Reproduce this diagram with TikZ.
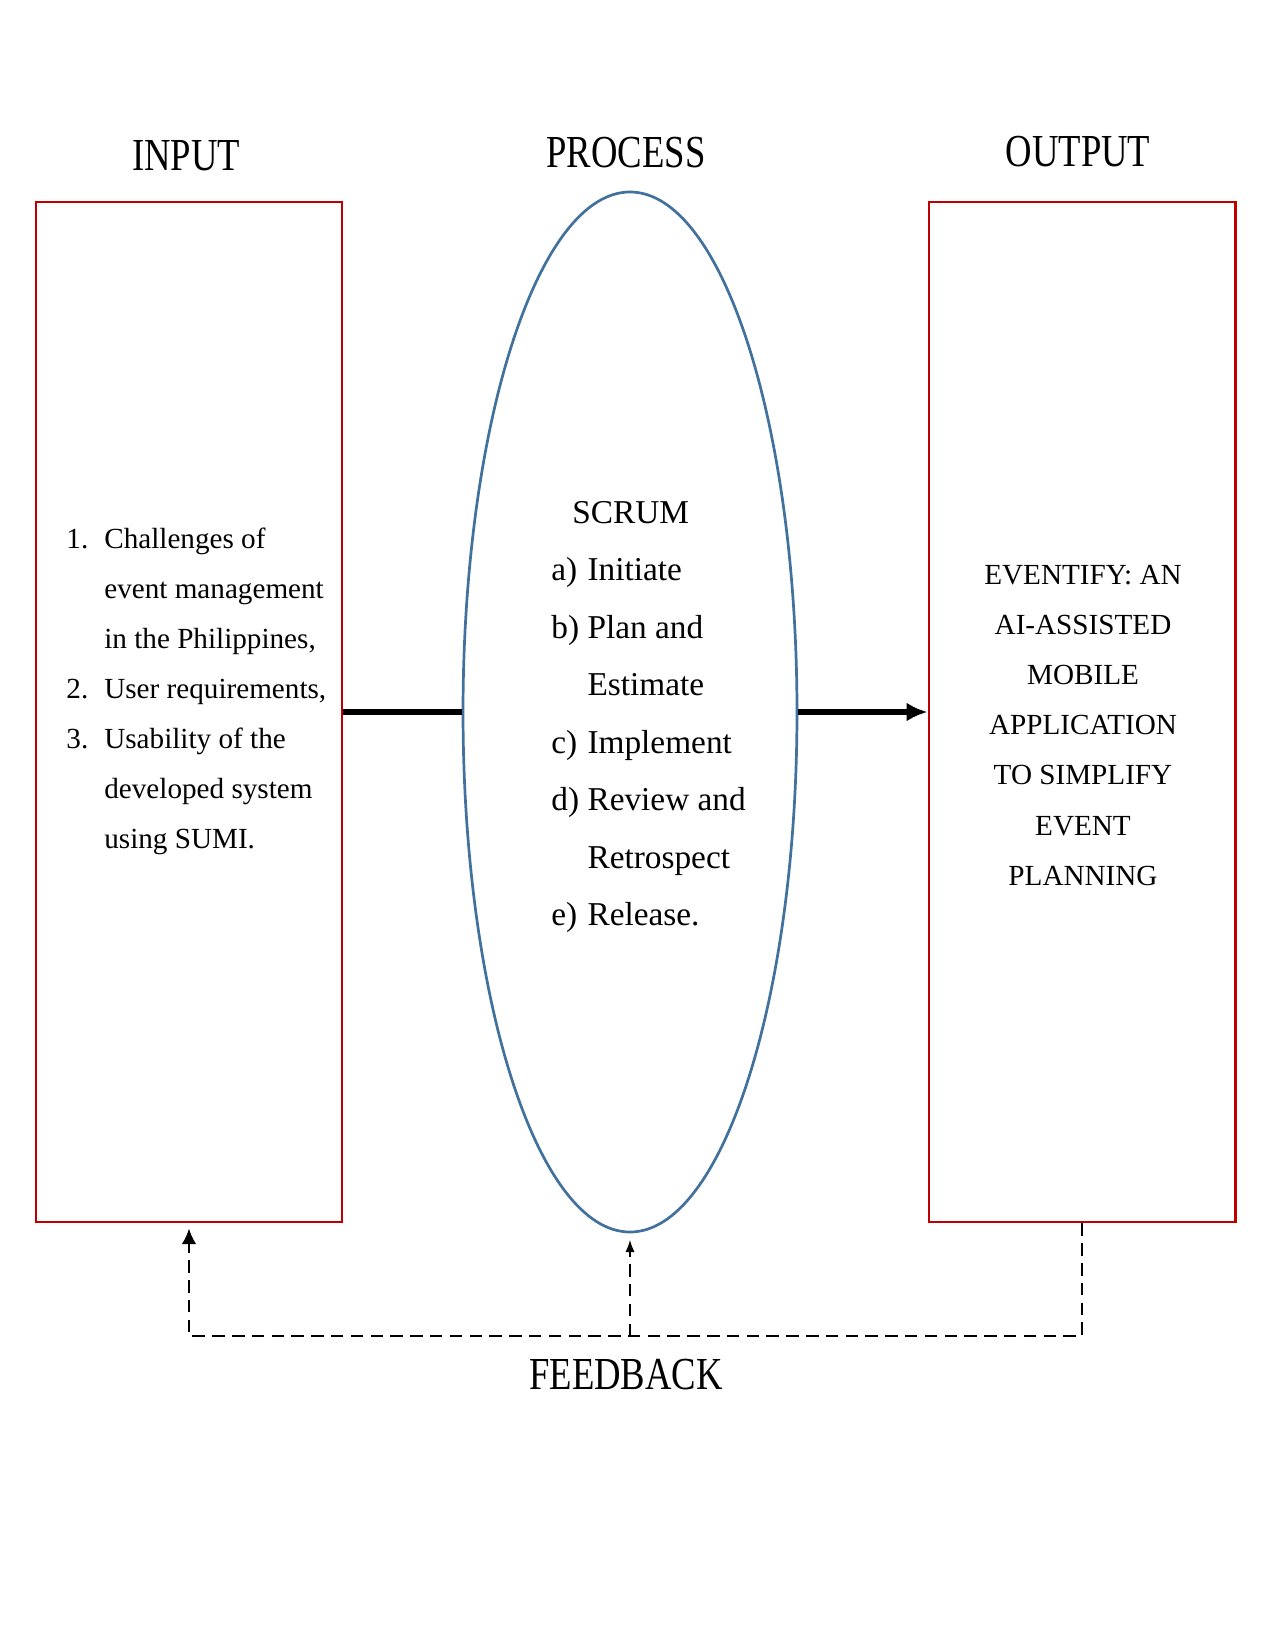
\documentclass[tikz,border=0pt]{standalone}
\usepackage{fontspec}
\setmainfont{Liberation Serif}
\usepackage{graphicx}
\usetikzlibrary{shapes.geometric,arrows.meta}
\definecolor{boxred}{HTML}{C00000}
\definecolor{ellblue}{HTML}{41719C}
\tikzset{
  iobox/.style = {draw=boxred, line width=1.4pt, minimum width=146.9pt, minimum height=489.6pt, inner sep=0pt},
  procell/.style = {ellipse, draw=ellblue, line width=1.3pt, minimum width=160.3pt, minimum height=499.2pt, inner sep=0pt},
  heading/.style = {anchor=base, inner sep=0pt, font=\fontsize{22}{26}\selectfont},
  listtext/.style = {inner sep=0pt},
  flow/.style = {line width=3.2pt},
  feedback/.style = {line width=1pt, dash pattern=on 6pt off 3.5pt},
}
\newcommand{\narrowtxt}[1]{\scalebox{0.8}[1]{#1}}

\begin{document}
\begin{tikzpicture}[x=0.48pt,y=-0.48pt]
  \useasboundingbox (0,0) rectangle (1275,1650);
  % shapes
  \node[iobox] (inbox) at (189,712) {};
  \node[procell] (proc) at (630,712) {};
  \node[iobox] (outbox) at (1082,712) {};
  % headings
  \node[heading] (inhead) at (186,171) {\narrowtxt{INPUT}};
  \node[heading] (prochead) at (626,168) {\narrowtxt{PROCESS}};
  \node[heading] (outhead) at (1078,167) {\narrowtxt{OUTPUT}};
  \node[heading] (fbhead) at (626,1389) {\narrowtxt{FEEDBACK}};
  % input list
  \node[listtext, anchor=base west, font=\fontsize{14}{24}\selectfont] (intext) at (66,548) {%
    \begin{tabular}[t]{@{}l@{\hspace{7.7pt}}l@{}}
      1. & Challenges of\\
         & event management\\
         & in the Philippines,\\
      2. & User requirements,\\
      3. & Usability of the\\
         & developed system\\
         & using SUMI.
    \end{tabular}};
  % process list
  \node[listtext, anchor=base west, font=\fontsize{16}{27.6}\selectfont] (proctext) at (551,523) {%
    \begin{tabular}[t]{@{}l@{\hspace{4pt}}l@{}}
      \multicolumn{2}{@{\hspace{10pt}}l@{}}{SCRUM}\\
      a) & Initiate\\
      b) & Plan and\\
         & Estimate\\
      c) & Implement\\
      d) & Review and\\
         & Retrospect\\
      e) & Release.
    \end{tabular}};
  % output text
  \node[listtext, anchor=base, font=\fontsize{14}{24.1}\selectfont] (outtext) at (1083,584) {%
    \begin{tabular}[t]{@{}c@{}}
      EVENTIFY: AN\\
      AI-ASSISTED\\
      MOBILE\\
      APPLICATION\\
      TO SIMPLIFY\\
      EVENT\\
      PLANNING
    \end{tabular}};
  % main flow
  \draw[flow] (inbox.east) -- (proc.west);
  \draw[flow,-{Latex[length=10pt,width=9pt]}] (proc.east) -- (outbox.west);
  % feedback loop
  \coordinate (fbline) at (0,1336);
  \draw[feedback,-{Latex[length=7.5pt,width=7pt]},shorten >=2.4pt]
    (outbox.south) -- (outbox.south |- fbline) -| (inbox.south);
  \draw[feedback,-{Latex[length=6pt,width=4.5pt]},shorten >=3pt]
    (proc.south |- fbline) -- (proc.south);
\end{tikzpicture}
\end{document}
